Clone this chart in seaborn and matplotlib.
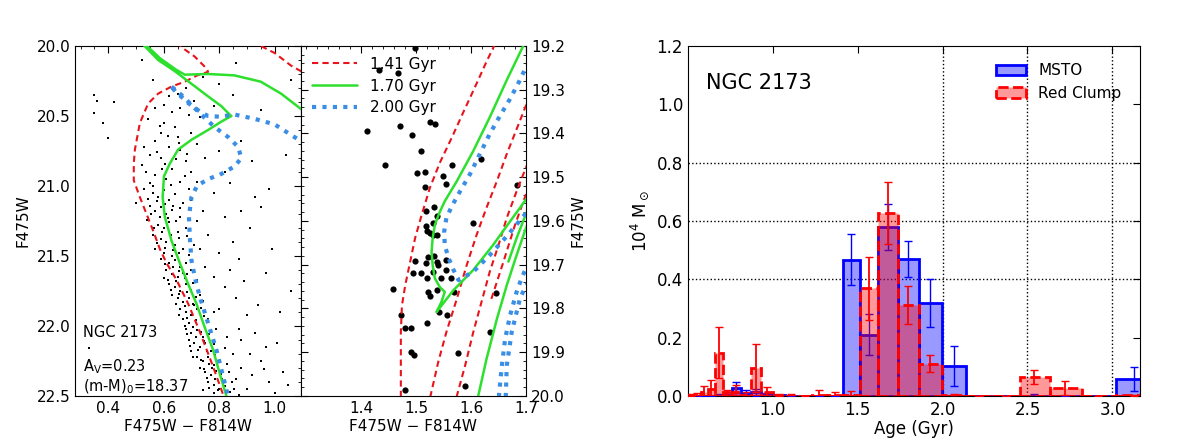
import numpy as np
import pandas as pd
import matplotlib
matplotlib.use("Agg")
import matplotlib.pyplot as plt
from matplotlib.patches import Patch
from matplotlib.ticker import MultipleLocator
import seaborn as sns

# ---------------- data ----------------
# left CMD: photometry of NGC 2173 (color, F475W)
cmd_stars = [
    (0.52, 20.10), (0.86, 20.12), (1.06, 20.24), (0.35, 20.35), (0.36, 20.39), (0.35, 20.48),
    (0.62, 20.36), (0.68, 20.30), (0.65, 20.34), (0.66, 20.44), (0.71, 20.39), (0.57, 20.44),
    (0.95, 20.46), (0.80, 20.27), (0.60, 20.42), (0.63, 20.47), (0.74, 20.22), (0.56, 20.24),
    (0.69, 20.49), (0.40, 20.66), (0.73, 20.51), (0.60, 20.55), (0.64, 20.58), (0.70, 20.62),
    (0.57, 20.68), (0.62, 20.72), (0.66, 20.74), (0.55, 20.78), (0.59, 20.80), (0.68, 20.82),
    (0.72, 20.70), (0.76, 20.60), (0.52, 20.85), (0.63, 20.88), (0.57, 20.92), (0.61, 20.95),
    (0.66, 20.97), (0.70, 20.90), (0.75, 20.80), (0.80, 20.75), (0.55, 20.98), (0.59, 20.62),
    (0.53, 20.72), (0.65, 20.65), (0.82, 20.90), (0.88, 20.68), (0.53, 21.02), (0.56, 21.05),
    (0.58, 21.08), (0.60, 21.03), (0.62, 21.10), (0.64, 21.06), (0.67, 21.12), (0.55, 21.14),
    (0.57, 21.18), (0.59, 21.15), (0.61, 21.20), (0.63, 21.17), (0.66, 21.22), (0.70, 21.10),
    (0.72, 21.25), (0.54, 21.24), (0.58, 21.28), (0.60, 21.30), (0.62, 21.26), (0.65, 21.33),
    (0.68, 21.30), (0.74, 21.18), (0.56, 21.35), (0.59, 21.38), (0.61, 21.40), (0.64, 21.42),
    (0.67, 21.45), (0.70, 21.38), (0.57, 21.45), (0.60, 21.48), (0.63, 21.50), (0.78, 21.05),
    (0.82, 21.22), (0.85, 21.40), (0.76, 21.35), (0.50, 21.12), (0.69, 21.02), (0.73, 21.45),
    (0.91, 21.30), (0.95, 21.15), (0.59, 21.52), (0.62, 21.55), (0.64, 21.53), (0.66, 21.58),
    (0.68, 21.55), (0.61, 21.60), (0.63, 21.63), (0.65, 21.65), (0.67, 21.62), (0.70, 21.60),
    (0.72, 21.67), (0.62, 21.70), (0.64, 21.72), (0.66, 21.75), (0.68, 21.70), (0.70, 21.74),
    (0.73, 21.78), (0.63, 21.78), (0.65, 21.80), (0.67, 21.83), (0.69, 21.80), (0.71, 21.85),
    (0.74, 21.82), (0.66, 21.88), (0.68, 21.90), (0.70, 21.92), (0.72, 21.88), (0.76, 21.95),
    (0.67, 21.95), (0.69, 21.98), (0.75, 21.58), (0.78, 21.65), (0.82, 21.72), (0.86, 21.80),
    (0.90, 21.92), (0.80, 21.88), (0.94, 21.85), (1.02, 21.90), (0.84, 21.60), (0.60, 21.66),
    (0.68, 22.02), (0.70, 22.05), (0.72, 22.03), (0.74, 22.08), (0.69, 22.10), (0.71, 22.12),
    (0.73, 22.15), (0.75, 22.12), (0.77, 22.18), (0.70, 22.18), (0.72, 22.22), (0.74, 22.25),
    (0.76, 22.22), (0.78, 22.28), (0.80, 22.25), (0.73, 22.30), (0.75, 22.33), (0.77, 22.35),
    (0.79, 22.32), (0.81, 22.38), (0.76, 22.40), (0.78, 22.42), (0.80, 22.45), (0.82, 22.43),
    (0.84, 22.47), (0.78, 22.48), (0.86, 22.38), (0.88, 22.30), (0.85, 22.20), (0.90, 22.45),
    (0.92, 22.35), (0.95, 22.25), (0.98, 22.40), (1.03, 22.33), (0.88, 22.10), (0.93, 22.05),
    (0.97, 22.15), (1.00, 22.48), (0.83, 22.08), (0.79, 22.02), (0.33, 22.16), (0.74, 22.46),
    (0.545, 20.52), (0.585, 20.57), (0.615, 20.64), (0.655, 20.69), (0.575, 20.76), (0.605, 20.84),
    (0.645, 20.81), (0.685, 20.77), (0.535, 20.90), (0.595, 20.88), (0.625, 20.99), (0.675, 20.93),
    (0.720, 20.97), (0.560, 21.00), (0.545, 21.09), (0.575, 21.11), (0.605, 21.13), (0.635, 21.14),
    (0.660, 21.16), (0.555, 21.20), (0.585, 21.22), (0.615, 21.23), (0.645, 21.25), (0.565, 21.30),
    (0.595, 21.33), (0.625, 21.35), (0.655, 21.37), (0.685, 21.36), (0.575, 21.41), (0.605, 21.44),
    (0.635, 21.46), (0.655, 21.48), (0.690, 21.49), (0.710, 21.42), (0.605, 21.56), (0.635, 21.58),
    (0.655, 21.61), (0.685, 21.63), (0.615, 21.67), (0.645, 21.68), (0.675, 21.66), (0.705, 21.69),
    (0.625, 21.74), (0.655, 21.77), (0.685, 21.76), (0.715, 21.79), (0.645, 21.84), (0.675, 21.86),
    (0.705, 21.84), (0.735, 21.87), (0.655, 21.92), (0.685, 21.94), (0.715, 21.96), (0.745, 21.93),
    (0.780, 21.90), (0.675, 22.00), (0.705, 22.01), (0.735, 22.04), (0.765, 22.06), (0.685, 22.06),
    (0.715, 22.08), (0.745, 22.11), (0.780, 22.13), (0.695, 22.14), (0.725, 22.17), (0.755, 22.18),
    (0.785, 22.21), (0.820, 22.16), (0.705, 22.22), (0.735, 22.24), (0.765, 22.27), (0.795, 22.29),
    (0.830, 22.27), (0.745, 22.31), (0.775, 22.30), (0.805, 22.34), (0.835, 22.33), (0.755, 22.37),
    (0.785, 22.38), (0.815, 22.41), (0.845, 22.40), (0.765, 22.44), (0.795, 22.46), (0.825, 22.48),
    (0.855, 22.45), (0.870, 22.49), (0.870, 22.02), (0.910, 22.20), (0.960, 22.31), (1.010, 22.12),
    (1.050, 22.42), (0.890, 21.68), (0.970, 21.62), (0.870, 21.52), (0.800, 21.48), (0.880, 21.18),
    (0.980, 21.02), (0.840, 20.98), (0.920, 20.82), (1.040, 20.78), (0.780, 20.43), (0.850, 20.35),
    (0.420, 20.40), (0.380, 20.55), (1.060, 21.75), (0.990, 21.45), (0.930, 21.08),
]

# zoomed CMD: red clump stars
rc_stars = [
    (1.498, 19.205), (1.433, 19.255), (1.467, 19.261), (1.410, 19.394), (1.470, 19.382),
    (1.492, 19.403), (1.525, 19.374), (1.534, 19.378), (1.509, 19.440), (1.444, 19.472),
    (1.501, 19.491), (1.516, 19.488), (1.566, 19.472), (1.548, 19.497), (1.618, 19.459),
    (1.516, 19.523), (1.554, 19.516), (1.683, 19.518), (1.517, 19.578), (1.533, 19.568),
    (1.537, 19.589), (1.517, 19.611), (1.531, 19.605), (1.603, 19.605), (1.519, 19.624),
    (1.525, 19.628), (1.531, 19.633), (1.537, 19.632), (1.522, 19.682), (1.532, 19.679),
    (1.537, 19.693), (1.498, 19.692), (1.517, 19.695), (1.555, 19.689), (1.495, 19.718),
    (1.509, 19.718), (1.520, 19.731), (1.530, 19.716), (1.540, 19.701), (1.546, 19.731),
    (1.555, 19.712), (1.563, 19.731), (1.458, 19.756), (1.522, 19.762), (1.526, 19.771),
    (1.537, 19.758), (1.569, 19.762), (1.645, 19.764), (1.541, 19.807), (1.557, 19.814),
    (1.472, 19.816), (1.479, 19.844), (1.490, 19.844), (1.520, 19.834), (1.634, 19.853),
    (1.491, 19.899), (1.496, 19.907), (1.576, 19.902), (1.479, 19.986), (1.589, 19.977),
]

# isochrones, as pieces of (color, F475W)
iso_141 = [
    [(0.83, 22.55), (0.816, 22.50), (0.778, 22.29), (0.730, 22.04), (0.688, 21.84), (0.646, 21.67),
     (0.610, 21.55), (0.586, 21.45), (0.562, 21.32), (0.538, 21.20), (0.514, 21.08), (0.492, 20.96),
     (0.492, 20.84), (0.496, 20.74), (0.514, 20.55), (0.544, 20.41), (0.580, 20.34), (0.628, 20.29),
     (0.676, 20.255), (0.724, 20.207), (0.760, 20.185), (0.754, 20.16), (0.712, 20.076),
     (0.670, 20.017), (0.640, 19.96)],
    [(0.92, 19.96), (0.94, 19.99), (1.000, 20.05), (1.059, 20.14), (1.095, 20.18), (1.20, 20.30)],
    [(1.472, 20.05), (1.472, 20.00), (1.472, 19.854), (1.474, 19.793), (1.480, 19.747), (1.489, 19.693),
     (1.498, 19.639), (1.510, 19.586), (1.525, 19.524), (1.543, 19.467), (1.565, 19.409),
     (1.586, 19.351), (1.610, 19.286), (1.628, 19.236), (1.642, 19.20), (1.66, 19.15)],
    [(1.52, 20.05), (1.526, 20.00), (1.540, 19.923), (1.555, 19.854), (1.574, 19.778), (1.592, 19.701),
     (1.610, 19.632), (1.628, 19.570), (1.647, 19.509), (1.665, 19.447), (1.683, 19.390),
     (1.700, 19.336), (1.72, 19.28)],
    [(1.57, 20.05), (1.574, 20.00), (1.589, 19.931), (1.604, 19.854), (1.619, 19.785), (1.634, 19.716),
     (1.650, 19.655), (1.665, 19.593), (1.683, 19.532), (1.700, 19.478), (1.72, 19.42)],
    [(1.637, 19.778), (1.659, 19.693), (1.680, 19.609), (1.700, 19.539), (1.72, 19.48)],
]
iso_170 = [
    [(0.84, 22.56), (0.826, 22.50), (0.802, 22.34), (0.778, 22.17), (0.748, 22.01), (0.718, 21.84),
     (0.688, 21.70), (0.658, 21.55), (0.628, 21.39), (0.604, 21.22), (0.596, 21.08), (0.601, 20.93),
     (0.622, 20.84), (0.652, 20.74), (0.700, 20.67), (0.760, 20.60), (0.808, 20.54), (0.844, 20.50),
     (0.838, 20.49), (0.808, 20.43), (0.760, 20.36), (0.700, 20.27), (0.640, 20.18), (0.580, 20.10),
     (0.526, 19.99), (0.534, 19.99), (0.588, 20.09), (0.645, 20.17), (0.676, 20.205), (0.760, 20.20),
     (0.855, 20.21), (0.950, 20.255), (1.023, 20.34), (1.095, 20.45), (1.20, 20.62)],
    [(1.71, 19.15), (1.695, 19.20), (1.665, 19.278), (1.634, 19.363), (1.604, 19.440), (1.574, 19.509),
     (1.552, 19.555), (1.542, 19.582), (1.534, 19.609), (1.530, 19.639), (1.528, 19.670),
     (1.530, 19.701), (1.534, 19.731), (1.543, 19.751), (1.552, 19.762), (1.546, 19.785),
     (1.537, 19.808), (1.568, 19.758), (1.604, 19.712), (1.640, 19.655), (1.671, 19.601),
     (1.700, 19.551), (1.72, 19.52)],
    [(1.668, 19.693), (1.683, 19.639), (1.700, 19.584), (1.72, 19.53)],
    [(1.61, 20.05), (1.613, 20.00), (1.628, 19.916), (1.647, 19.824), (1.665, 19.747), (1.683, 19.678),
     (1.700, 19.616), (1.72, 19.56)],
]
iso_200 = [
    [(0.845, 22.55), (0.832, 22.50), (0.814, 22.36), (0.790, 22.17), (0.760, 21.98), (0.730, 21.79),
     (0.712, 21.65), (0.700, 21.53), (0.694, 21.36), (0.691, 21.22), (0.700, 21.08), (0.720, 21.00),
     (0.760, 20.95), (0.802, 20.92), (0.856, 20.86), (0.880, 20.80), (0.868, 20.72), (0.832, 20.65),
     (0.784, 20.58), (0.735, 20.49), (0.700, 20.42), (0.664, 20.35), (0.622, 20.28), (0.645, 20.33),
     (0.690, 20.41), (0.735, 20.475), (0.760, 20.50), (0.800, 20.505), (0.856, 20.49), (0.927, 20.52),
     (1.000, 20.56), (1.071, 20.65), (1.20, 20.80)],
    [(1.72, 19.22), (1.700, 19.248), (1.689, 19.278), (1.671, 19.321), (1.653, 19.359), (1.634, 19.401),
     (1.616, 19.447), (1.598, 19.493), (1.580, 19.532), (1.565, 19.566), (1.555, 19.593),
     (1.551, 19.624), (1.552, 19.655), (1.559, 19.685), (1.568, 19.712), (1.577, 19.735),
     (1.604, 19.716), (1.634, 19.678), (1.665, 19.635), (1.700, 19.582), (1.72, 19.55)],
    [(1.650, 20.05), (1.651, 19.996), (1.656, 19.931), (1.662, 19.870), (1.671, 19.816),
     (1.683, 19.762), (1.692, 19.731), (1.700, 19.708), (1.72, 19.68)],
    [(1.662, 20.05), (1.665, 19.931), (1.674, 19.854), (1.689, 19.778), (1.700, 19.747), (1.72, 19.72)],
]

# right panel: star formation history, bins of 0.03 dex in log(age)
log_age_edges = np.round(np.arange(8.70, 9.52, 0.03), 2)
msto_mass = [0.0, 0.0, 0.0, 0.0, 0.003, 0.003, 0.029, 0.006, 0.012, 0.008, 0.002, 0.0, 0.0, 0.0,
             0.0, 0.467, 0.210, 0.579, 0.470, 0.319, 0.103, 0.0, 0.0, 0.001, 0.0, 0.0, 0.058]
msto_err = [0.0, 0.0, 0.0, 0.0, 0.005, 0.010, 0.018, 0.014, 0.012, 0.003, 0.003, 0.0, 0.0, 0.0,
            0.0, 0.087, 0.070, 0.080, 0.063, 0.081, 0.069, 0.0, 0.0, 0.007, 0.0, 0.0, 0.042]
rc_mass = [0.003, 0.004, 0.012, 0.025, 0.148, 0.012, 0.015, 0.005, 0.096, 0.012, 0.003, 0.001, 0.0,
           0.005, 0.004, 0.002, 0.370, 0.627, 0.312, 0.111, 0.003, 0.0, 0.0, 0.065, 0.027, 0.0, 0.002]
rc_err = [0.004, 0.006, 0.022, 0.031, 0.088, 0.008, 0.024, 0.008, 0.083, 0.020, 0.003, 0.006, 0.0,
          0.015, 0.010, 0.014, 0.108, 0.105, 0.064, 0.028, 0.005, 0.0, 0.0, 0.025, 0.023, 0.0, 0.003]

age_edges = 10 ** (log_age_edges - 9.0)
age_mid = np.sqrt(age_edges[:-1] * age_edges[1:])
sfh = pd.DataFrame({'age': age_mid, 'msto': msto_mass, 'msto_err': msto_err,
                    'rc': rc_mass, 'rc_err': rc_err})

RED = '#e8141c'
GREEN = '#2ee02e'
BLUE = '#3a8ee6'

# ---------------- style ----------------
sns.set_style("white", {"axes.edgecolor": "black", "text.color": "black",
                        "xtick.color": "black", "ytick.color": "black",
                        "axes.labelcolor": "black",
                        "xtick.direction": "in", "ytick.direction": "in"})
plt.rcParams['font.family'] = ['DejaVu Sans']
plt.rcParams['mathtext.default'] = 'regular'

fig = plt.figure(figsize=(12, 4.4), dpi=100)
ax1 = fig.add_axes([0.0625, 0.1, 0.1883, 0.7955])
ax2 = fig.add_axes([0.2508, 0.1, 0.1875, 0.7955])
ax3 = fig.add_axes([0.5733, 0.1, 0.3767, 0.7955])


def draw_iso(ax, pieces, label, **kw):
    for i, seg in enumerate(pieces):
        c, m = zip(*seg)
        ax.plot(c, m, label=label if i == 0 else None, **kw)


# ---------------- CMD panels ----------------
cmd_df = pd.DataFrame(cmd_stars, columns=['color', 'mag'])
rc_df = pd.DataFrame(rc_stars, columns=['color', 'mag'])

sns.scatterplot(data=cmd_df, x='color', y='mag', ax=ax1, marker='s', s=3,
                color='black', linewidth=0, zorder=2)
sns.scatterplot(data=rc_df, x='color', y='mag', ax=ax2, marker='o', s=20,
                color='black', linewidth=0, zorder=2)

for ax in (ax1, ax2):
    draw_iso(ax, iso_141, '1.41 Gyr', color=RED, lw=1.5, ls=(0, (3, 2)), zorder=3)
    draw_iso(ax, iso_170, '1.70 Gyr', color=GREEN, lw=1.8, ls='-', zorder=3)
    draw_iso(ax, iso_200, '2.00 Gyr', color=BLUE, lw=3, ls=(0, (1, 1.5)), zorder=3)

ax1.set_xlim(0.28, 1.095)
ax1.set_ylim(22.5, 20.0)
ax1.set_xticks([0.4, 0.6, 0.8, 1.0])
ax1.xaxis.set_minor_locator(MultipleLocator(0.05))
ax1.yaxis.set_major_locator(MultipleLocator(0.5))
ax1.yaxis.set_minor_locator(MultipleLocator(0.1))
ax1.set_xlabel('F475W − F814W', fontsize=11, labelpad=2)
ax1.set_ylabel('F475W', fontsize=11)
ax1.tick_params(which='both', top=True, right=True, labelsize=11)
ax1.tick_params(which='major', length=5)
ax1.tick_params(which='minor', length=2.5)
ax1.text(0.035, 0.181, 'NGC 2173', transform=ax1.transAxes, fontsize=10.5, va='center')
ax1.text(0.035, 0.084, r'A$_V$=0.23', transform=ax1.transAxes, fontsize=10.5, va='center')
ax1.text(0.035, 0.027, r'(m-M)$_0$=18.37', transform=ax1.transAxes, fontsize=10.5, va='center')

ax2.set_xlim(1.29, 1.70)
ax2.set_ylim(20.0, 19.2)
ax2.set_xticks([1.4, 1.5, 1.6, 1.7])
ax2.xaxis.set_minor_locator(MultipleLocator(0.02))
ax2.yaxis.set_major_locator(MultipleLocator(0.1))
ax2.yaxis.set_minor_locator(MultipleLocator(0.02))
ax2.yaxis.tick_right()
ax2.yaxis.set_label_position('right')
ax2.tick_params(which='both', top=True, left=True, right=True,
                labelleft=False, labelright=True, labelsize=11)
ax2.tick_params(which='major', length=5)
ax2.tick_params(which='minor', length=2.5)
ax2.set_xlabel('F475W − F814W', fontsize=11, labelpad=2)
ax2.set_ylabel('F475W', fontsize=11)
ax2.legend(loc='upper left', frameon=False, fontsize=11, handlelength=3,
           borderaxespad=0.3, labelspacing=0.45)

# ---------------- age distribution ----------------
sns.histplot(data=sfh, x='age', weights='msto', bins=list(age_edges), ax=ax3,
             color='blue', alpha=0.4, edgecolor='blue', linewidth=2, zorder=2)
ax3.errorbar(sfh['age'], sfh['msto'], yerr=sfh['msto_err'], fmt='none', ecolor='blue',
             elinewidth=1, capsize=3, capthick=1, zorder=3)
sns.histplot(data=sfh, x='age', weights='rc', bins=list(age_edges), ax=ax3,
             color='red', alpha=0.4, edgecolor='red', linewidth=2, linestyle='--', zorder=4)
ax3.errorbar(sfh['age'], sfh['rc'], yerr=sfh['rc_err'], fmt='none', ecolor='red',
             elinewidth=1.3, capsize=3, capthick=1, zorder=5)

for y in (0.4, 0.6, 0.8):
    ax3.axhline(y, color='black', ls=':', lw=1, zorder=1)
for x in (2.0, 2.5, 3.0):
    ax3.axvline(x, color='black', ls=':', lw=1, zorder=1)

ax3.set_xlim(10 ** -0.3, 10 ** 0.5)
ax3.set_ylim(0, 1.2)
ax3.set_xticks([1.0, 1.5, 2.0, 2.5, 3.0])
ax3.set_yticks(np.round(np.arange(0, 1.21, 0.2), 1))
ax3.tick_params(labelsize=12, length=5, top=True, right=True)
ax3.set_xlabel('Age (Gyr)', fontsize=12, labelpad=1)
ax3.set_ylabel(r'10$^4$ M$_\odot$', fontsize=12)
ax3.text(0.04, 0.893, 'NGC 2173', transform=ax3.transAxes, fontsize=15, va='center')
handles = [Patch(facecolor=(0, 0, 1, 0.4), edgecolor='blue', linewidth=2),
           Patch(facecolor=(1, 0, 0, 0.4), edgecolor='red', linewidth=2, linestyle='--')]
ax3.legend(handles, ['MSTO', 'Red Clump'], loc='upper right', frameon=False,
           fontsize=11, bbox_to_anchor=(0.99, 0.99))

fig.savefig('out.png', dpi=100)
